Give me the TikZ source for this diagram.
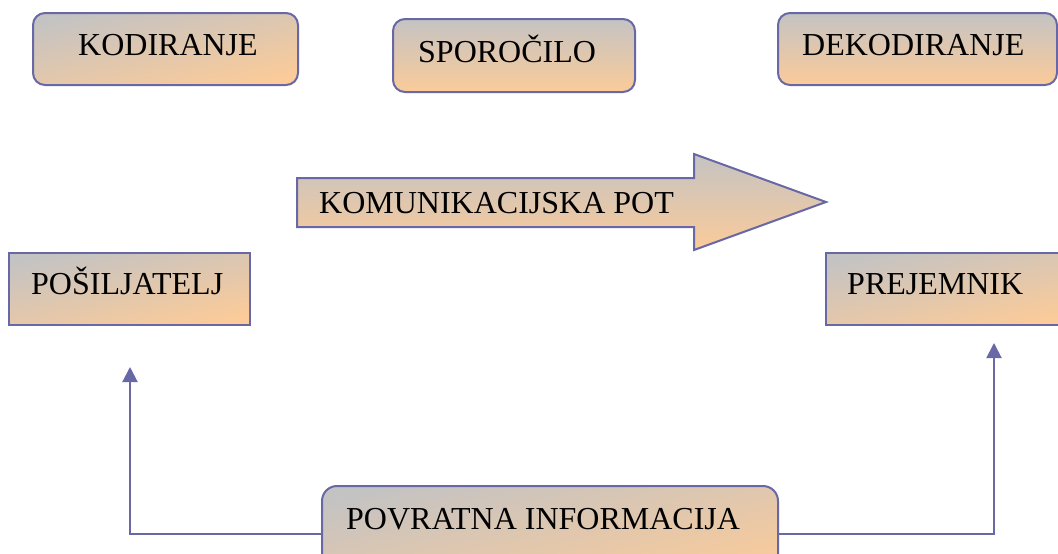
\documentclass[tikz,border=0pt]{standalone}
\usepackage{fontspec}
\setmainfont{Liberation Serif}
\usetikzlibrary{arrows.meta}
\definecolor{gtop}{RGB}{196,195,195}
\definecolor{gbot}{RGB}{251,203,153}
\definecolor{edge}{RGB}{104,104,166}
\tikzset{
  diag/.style={draw=edge, line width=2pt, top color=gtop, bottom color=gbot, shading angle=12, inner sep=0pt},
  vert/.style={draw=edge, line width=2pt, top color=gtop, bottom color=gbot, inner sep=0pt},
  rbox/.style={rounded corners=12pt},
  lbl/.style={anchor=base west, inner sep=0pt, font=\fontsize{32}{38}\selectfont},
  conn/.style={draw=edge, line width=2pt, -{Triangle[length=15pt,width=15pt]}}
}
\begin{document}
\begin{tikzpicture}[x=1pt,y=-1pt]
\useasboundingbox (0,0) rectangle (1058,554);
\clip (0,0) rectangle (1058,554);
% boxes
\node[diag, rbox, minimum width=265pt, minimum height=72pt] (kod) at (165.5,49) {};
\node[vert, rbox, minimum width=242pt, minimum height=73pt] (spo) at (514,55.5) {};
\node[vert, rbox, minimum width=279pt, minimum height=72pt] (dek) at (917.5,49) {};
\node[diag, minimum width=241pt, minimum height=72pt] (pos) at (129.5,289) {};
\node[diag, minimum width=240pt, minimum height=72pt] (pre) at (946,289) {};
\node[diag, rounded corners=15pt, minimum width=456pt, minimum height=96pt] (pov) at (550,534) {};
% arrow shape
\path[vert] (297,178) -- (694,178) -- (694,154) -- (826,202) -- (694,250) -- (694,227) -- (297,227) -- cycle;
% texts
\node[lbl] (kodt) at (78,55) {KODIRANJE};
\node[lbl] (spot) at (418,62) {SPOROČILO};
\node[lbl] (dekt) at (802,55) {DEKODIRANJE};
\node[lbl] (pott) at (319,213) {KOMUNIKACIJSKA POT};
\node[lbl] (post) at (31,294) {POŠILJATELJ};
\node[lbl] (pret) at (847,294) {PREJEMNIK};
\node[lbl] (povt) at (346,529) {POVRATNA INFORMACIJA};
% connectors
\coordinate (lt) at (130,367);
\coordinate (rt) at (994,343);
\draw[conn] (pov.west) -| (lt);
\draw[conn] (pov.east) -| (rt);
\end{tikzpicture}
\end{document}
